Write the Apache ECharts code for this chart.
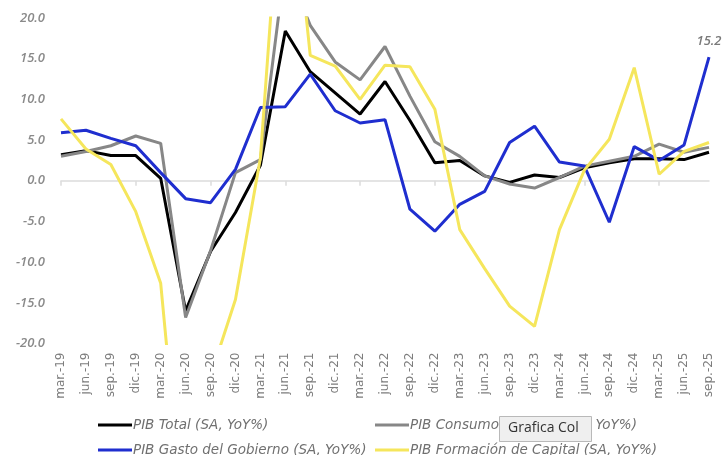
<!DOCTYPE html>
<html><head><meta charset="utf-8">
<script src="https://cdn.jsdelivr.net/npm/echarts@6/dist/echarts.min.js"></script>
<style>html,body{margin:0;padding:0;background:#fff}#c{width:722px;height:455px}</style>
</head><body><div id="c"></div>
<script>
const categories = ['mar.-19','jun.-19','sep.-19','dic.-19','mar.-20','jun.-20','sep.-20','dic.-20','mar.-21','jun.-21','sep.-21','dic.-21','mar.-22','jun.-22','sep.-22','dic.-22','mar.-23','jun.-23','sep.-23','dic.-23','mar.-24','jun.-24','sep.-24','dic.-24','mar.-25','jun.-25','sep.-25'];
const pibTotal =     [3.2, 3.7, 3.1, 3.1, 0.3, -16.0, -8.7, -3.9, 1.9, 18.4, 13.4, 10.8, 8.2, 12.2, 7.4, 2.2, 2.5, 0.6, -0.2, 0.7, 0.4, 1.6, 2.2, 2.7, 2.7, 2.6, 3.5];
const pibConsumo =   [3.0, 3.6, 4.3, 5.5, 4.6, -16.8, -8.6, 1.0, 2.6, 26.8, 19.1, 14.6, 12.4, 16.5, 10.4, 4.8, 3.0, 0.6, -0.4, -0.9, 0.4, 1.8, 2.4, 3.0, 4.5, 3.5, 4.1];
const pibGobierno =  [5.9, 6.2, 5.2, 4.3, 1.0, -2.2, -2.7, 1.4, 9.0, 9.1, 13.1, 8.6, 7.1, 7.5, -3.5, -6.2, -2.9, -1.3, 4.7, 6.7, 2.3, 1.8, -5.1, 4.2, 2.5, 4.4, 15.2];
const pibFormacion = [7.6, 3.9, 2.0, -3.8, -12.6, -45.0, -24.0, -14.6, 2.8, 45.0, 15.4, 14.1, 10.0, 14.2, 14.0, 8.8, -6.0, -10.8, -15.4, -17.9, -6.0, 1.3, 5.1, 13.9, 0.8, 3.6, 4.7];
const seriesNames = ['PIB Total (SA, YoY%)','PIB Consumo Hogares (SA, YoY%)','PIB Gasto del Gobierno (SA, YoY%)','PIB Formación de Capital (SA, YoY%)'];
const seriesColors = ['#000000','#878787','#1f2ecf','#f5e65c'];
const yMin = -20, yMax = 20, yStep = 5;

const chart = echarts.init(document.getElementById('c'), null, {renderer:'canvas'});
const lastIdx = pibGobierno.length - 1;
const gobData = pibGobierno.map((v,i)=> i===lastIdx ? {value:v, label:{show:true, position:'top', distance:9, formatter:(p)=>Number(p.value).toFixed(1), color:'#7a7a7a', fontStyle:'italic', fontFamily:'Open Sans', fontSize:13, fontWeight:600}} : v);
const allData = [pibTotal, pibConsumo, gobData, pibFormacion];

const legendPos = [[93,413],[370,413],[93,438],[370,438]];
const option = {
  animation:false,
  backgroundColor:'#ffffff',
  grid:{left:61, right:13, top:18, bottom:111.5},
  xAxis:[
    {type:'category', data:categories, boundaryGap:false,
     axisLine:{show:true, onZero:true, lineStyle:{color:'#dcdcdc', width:1.5}},
     axisTick:{show:true, length:5, lineStyle:{color:'#dcdcdc', width:1.5}},
     axisLabel:{show:false}, splitLine:{show:false}},
    {type:'category', data:categories, boundaryGap:false, position:'bottom',
     axisLine:{show:false, onZero:false}, axisTick:{show:false}, splitLine:{show:false},
     axisLabel:{show:true, rotate:90, margin:9, color:'#7d7d7d', fontFamily:'DejaVu Sans', fontSize:12, interval:0}}
  ],
  yAxis:{type:'value', min:yMin, max:yMax, interval:yStep,
    axisLine:{show:false}, axisTick:{show:false}, splitLine:{show:false},
    axisLabel:{margin:16, color:'#8a8a8a', fontStyle:'italic', fontWeight:600, fontFamily:'Open Sans', fontSize:13, formatter:(v)=>v.toFixed(1)}},
  legend: seriesNames.map((n,i)=>({data:[n], left:legendPos[i][0], top:legendPos[i][1], icon:'rect', itemWidth:34, itemHeight:3, itemGap:0,
    textStyle:{color:'#707070', fontStyle:'italic', fontFamily:'DejaVu Sans', fontSize:13.5, padding:[0,0,0,-4]}})),
  series: seriesNames.map((n,i)=>({name:n, type:'line', data:allData[i], clip:true, xAxisIndex:0,
    symbol: i===2 ? 'circle' : 'none', showSymbol: i===2, symbolSize: 0.01,
    lineStyle:{color:seriesColors[i], width:3}, itemStyle:{color:seriesColors[i]}, z:2+i})),
  graphic:[
    {type:'rect', left:499, top:416, shape:{width:92, height:25}, style:{fill:'#efefef', stroke:'#b9b9b9', lineWidth:1}, z:100},
    {type:'text', left:508, top:421, style:{text:'Grafica Col', fill:'#333333', font:'14px "Open Sans"'}, z:101}
  ]
};
chart.setOption(option);
</script></body></html>
